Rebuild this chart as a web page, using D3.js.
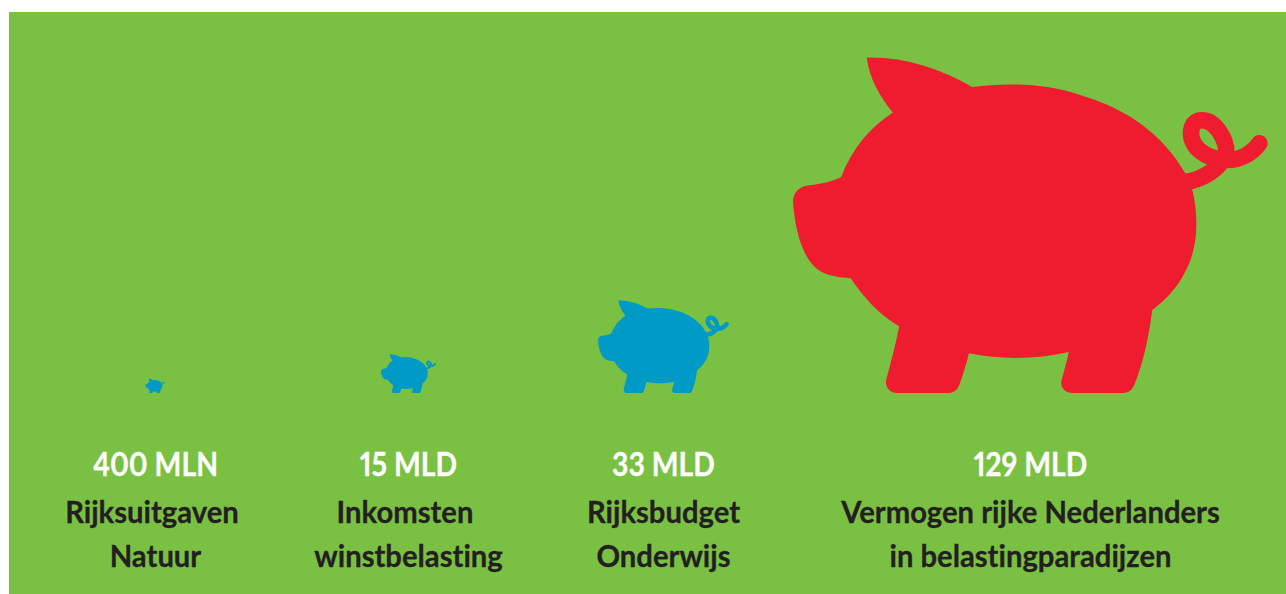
<!DOCTYPE html>
<html>
<head>
<meta charset="utf-8">
<script src="https://cdn.jsdelivr.net/npm/d3@7"></script>
<style>
  html, body { margin: 0; padding: 0; background: #fff; }
  svg { display: block; }
  text {
    font-family: Lato, sans-serif;
    font-weight: 700;
    text-anchor: middle;
    font-variant-ligatures: none;
    font-variant-numeric: proportional-nums;
  }
</style>
</head>
<body>
<script>
// amounts in billions of euros
const categories = ['natuur', 'winstbelasting', 'onderwijs', 'paradijzen'];
const values = [0.4, 15, 33, 129];
const valueLabels = ['400 MLN', '15 MLD', '33 MLD', '129 MLD'];
const firstLines = ['Rijksuitgaven', 'Inkomsten', 'Rijksbudget', 'Vermogen rijke Nederlanders'];
const secondLines = ['Natuur', 'winstbelasting', 'Onderwijs', 'in belastingparadijzen'];
const pigColors = ['#009ac7', '#009ac7', '#009ac7', '#ee1c2e'];

const width = 1286, height = 594;
const baseline = 393;

// pig drawn once in its own units, then scaled per value
const pigBody = 'M261,53 C370,50 480,85 577,141 C680,128 800,130 900,165 C1040,205 1150,285 1216,401 ' +
  'L1237,452 C1255,530 1255,620 1215,695 C1190,745 1155,780 1116,810 C1105,900 1085,980 1062,1035 ' +
  'C1055,1050 1045,1058 1028,1058 L878,1058 C855,1058 838,1040 845,1018 C853,990 860,965 866,935 ' +
  'C770,958 660,958 567,939 C560,970 550,1000 538,1035 C532,1050 520,1058 505,1058 L352,1058 ' +
  'C330,1058 313,1040 320,1015 C335,960 348,910 358,858 C300,825 250,770 213,714 C180,712 150,708 125,695 ' +
  'C70,665 45,570 40,483 C40,458 60,437 85,436 C120,434 155,425 184,412 C215,330 270,262 339,218 ' +
  'C300,170 268,115 261,53 Z';
const pigTail = 'M1215,426 C1270,418 1320,385 1338,340 C1340,300 1305,240 1265,241 C1235,240 1225,275 1238,305 ' +
  'C1250,335 1290,358 1340,360 C1380,360 1415,340 1437,310';
const pigLeft = 40, pigRight = 1463, pigBottom = 1058;

const svg = d3.select('body')
  .append('svg')
  .attr('width', width)
  .attr('height', height);

svg.append('rect')
  .attr('x', 9)
  .attr('y', 12)
  .attr('width', width - 9)
  .attr('height', height - 12)
  .attr('fill', '#7ac143');

const xScale = d3.scaleOrdinal()
  .domain(categories)
  .range([155.5, 408.5, 663.5, 1030.5]);

// first text line sits a bit left of the column in the first two columns
const firstLineX = d3.scaleOrdinal()
  .domain(categories)
  .range([152, 405, 663.5, 1030.5]);

// small pigs are not strictly to scale in the original, hence the piecewise range
const widthScale = d3.scaleLinear()
  .domain(values)
  .range([20, 55, 131, 475]);

const pigs = svg.selectAll('g.pig')
  .data(categories)
  .enter()
  .append('g')
  .attr('class', 'pig')
  .attr('transform', (d, i) => {
    const k = widthScale(values[i]) / (pigRight - pigLeft);
    const left = xScale(d) - widthScale(values[i]) / 2;
    return `translate(${left - pigLeft * k}, ${baseline - pigBottom * k}) scale(${k})`;
  });

pigs.append('path')
  .attr('d', pigBody)
  .attr('fill', (_, i) => pigColors[i]);

pigs.append('path')
  .attr('d', pigTail)
  .attr('fill', 'none')
  .attr('stroke', (_, i) => pigColors[i])
  .attr('stroke-width', 50)
  .attr('stroke-linecap', 'round');

// Lato is wider than the original face, so squeeze the text a little
svg.selectAll('text.value')
  .data(categories)
  .enter()
  .append('text')
  .attr('class', 'value')
  .attr('transform', d => `translate(${xScale(d)}, 476) scale(0.86, 1)`)
  .attr('fill', '#fff')
  .attr('stroke', '#fff')
  .attr('stroke-width', 0.3)
  .style('font-size', '33px')
  .text((_, i) => valueLabels[i]);

svg.selectAll('text.first')
  .data(categories)
  .enter()
  .append('text')
  .attr('class', 'first')
  .attr('transform', d => `translate(${firstLineX(d)}, 523) scale(0.975, 1)`)
  .attr('fill', '#231f20')
  .attr('stroke', '#231f20')
  .attr('stroke-width', 0.3)
  .style('font-size', '30px')
  .text((_, i) => firstLines[i]);

svg.selectAll('text.second')
  .data(categories)
  .enter()
  .append('text')
  .attr('class', 'second')
  .attr('transform', d => `translate(${xScale(d)}, 567) scale(0.975, 1)`)
  .attr('fill', '#231f20')
  .attr('stroke', '#231f20')
  .attr('stroke-width', 0.3)
  .style('font-size', '30px')
  .text((_, i) => secondLines[i]);
</script>
</body>
</html>
